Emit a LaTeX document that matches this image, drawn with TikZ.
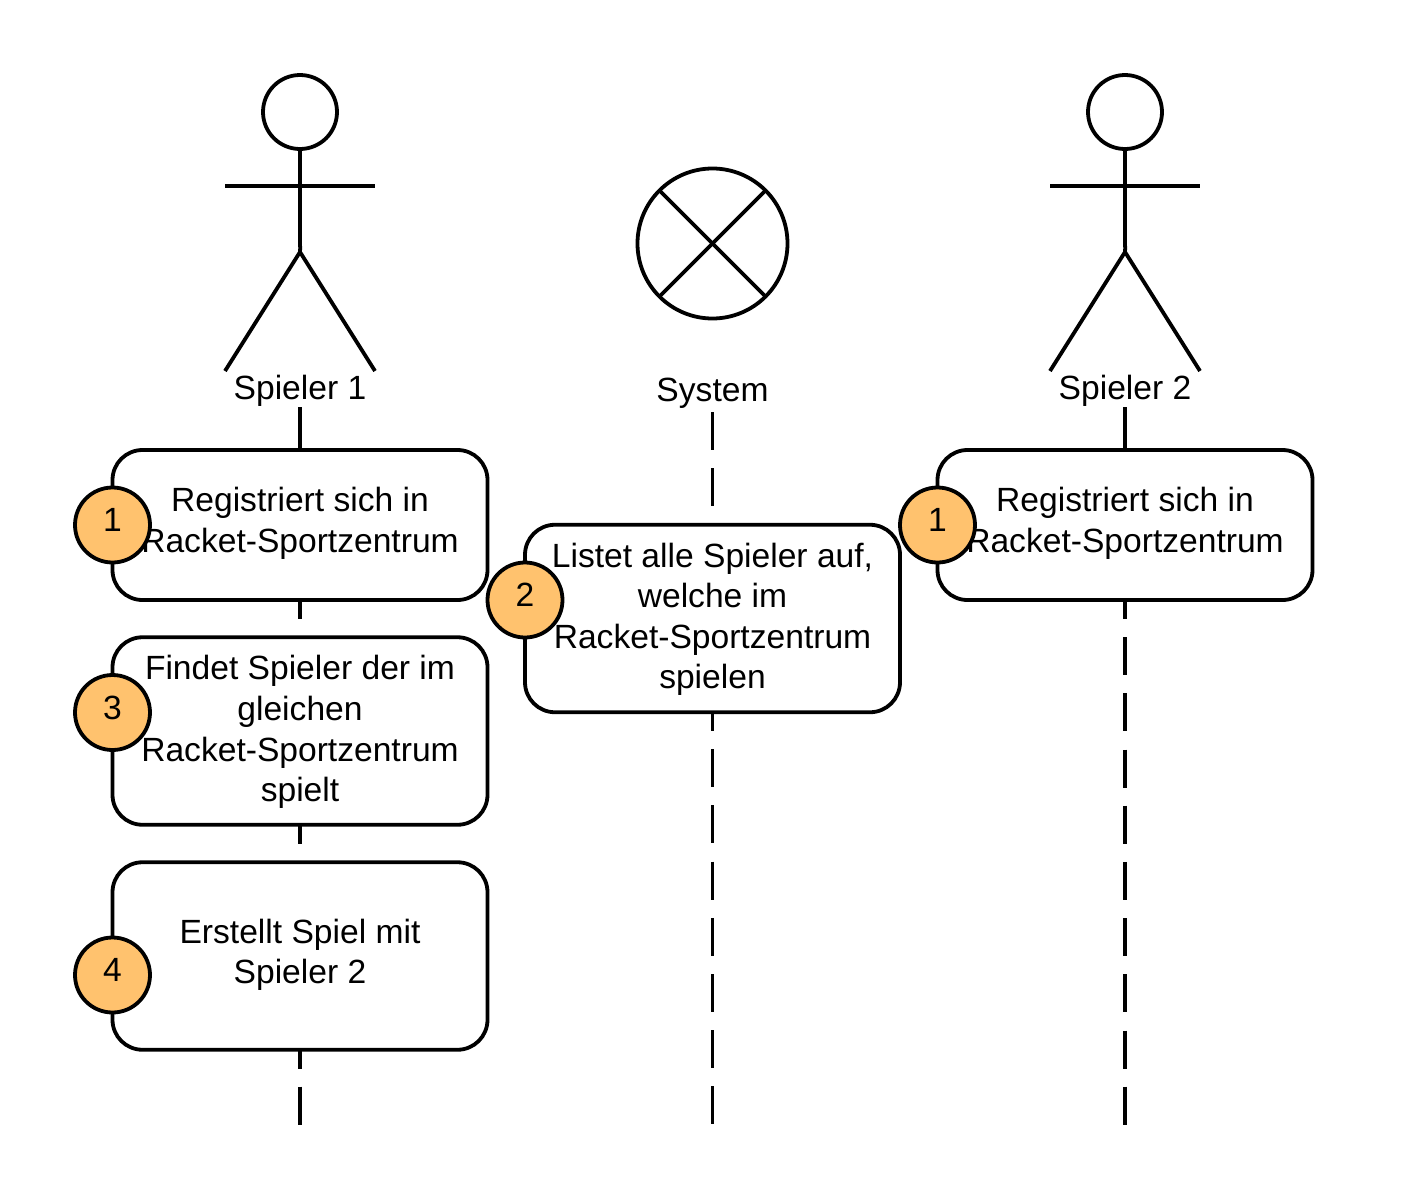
\documentclass[tikz,border=0pt]{standalone}
\usepackage{fontspec}
\setmainfont{Liberation Sans}
\usetikzlibrary{calc}
\tikzset{
  x=1pt,y=-1pt,
  every node/.style={inner sep=0pt,outer sep=0pt,font=\fontsize{33.6}{40.6}\selectfont,text=black},
  stroke/.style={line width=3.8pt,draw=black},
  activity/.style={stroke,fill=white,rounded corners=30pt,minimum width=375pt},
  badge/.style={stroke,fill=badgecol,circle,minimum size=75pt},
  lifeline/.style={line width=3.8pt,draw=black},
  thinline/.style={line width=2.8pt,draw=black},
  limb/.style={stroke,line join=round},
  lbl/.style={anchor=base},
}
\definecolor{badgecol}{HTML}{FFC26E}
% text block: vertical offset (pt, positive = up) from the centre of the node
\newcommand{\lines}[2]{\raisebox{\dimexpr-8.35pt+#1pt\relax}[0pt][0pt]{\begin{tabular}[c]{@{}c@{}}#2\end{tabular}}}
\newcommand{\digit}[1]{\raisebox{-6.7pt}[0pt][0pt]{#1}}
\newcommand{\actor}[2]{%
  \node[stroke,circle,minimum size=74pt] (#1head) at (#2,112) {};
  \coordinate (#1hip) at (#2,252);
  \draw[limb] (#1head.south) -- (#2,244) .. controls (#2,247) and (#2+.5,249) .. (#1hip);
  \draw[limb] (#2-75,186) -- (#2+75,186);
  \draw[limb] (#2-75,371) -- (#1hip) -- (#2+75,371);
}
\begin{document}
\begin{tikzpicture}
\useasboundingbox (0,0) rectangle (1425,1200);
% end points of the lifelines
\coordinate (botA) at (300,1125);
\coordinate (botS) at (712.5,1125);
\coordinate (botB) at (1125,1125);
% labels
\node[lbl] (labA) at (300,399) {Spieler 1};
\node[lbl] (labS) at (712.5,401) {System};
\node[lbl] (labB) at (1125,399) {Spieler 2};
\coordinate (startA) at (300,407);
\coordinate (startS) at (712.5,412);
\coordinate (startB) at (1125,407);
% lifelines
\draw[lifeline] (startA) -- (300,450);
\draw[lifeline] (startB) -- (1125,450);
\draw[lifeline,dash pattern=on 38pt off 18.2pt,dash phase=19.1pt] (300,600) -- (botA);
\draw[thinline,dash pattern=on 38pt off 18.2pt] (startS) -- (botS);
\draw[lifeline,dash pattern=on 38pt off 18.2pt,dash phase=19.1pt] (1125,600) -- (botB);
% actors
\actor{a}{300}
\actor{b}{1125}
% system symbol
\node[stroke,circle,minimum size=150pt] (sys) at (712.5,243.5) {};
\draw[limb] (sys.north west) -- (sys.south east);
\draw[limb] (sys.north east) -- (sys.south west);
% activities
\node[activity,minimum height=150pt] (r1) at (300,525) {\lines{3}{Registriert sich in\\Racket-Sportzentrum}};
\node[activity,minimum height=187.5pt] (f) at (300,731) {\lines{0.4}{Findet Spieler der im\\gleichen\\Racket-Sportzentrum\\spielt}};
\node[activity,minimum height=187.5pt] (e) at (300,956) {\lines{2.8}{Erstellt Spiel mit\\Spieler 2}};
\node[activity,minimum height=187.5pt] (l) at (712.5,618.5) {\lines{0.8}{Listet alle Spieler auf,\\welche im\\Racket-Sportzentrum\\spielen}};
\node[activity,minimum height=150pt] (r2) at (1125,525) {\lines{3}{Registriert sich in\\Racket-Sportzentrum}};
% badges
\node[badge] (b1) at (112.5,525) {\digit{1}};
\node[badge] (b3) at (112.5,712.5) {\digit{3}};
\node[badge] (b4) at (112.5,975) {\digit{4}};
\node[badge] (b2) at (525,600) {\digit{2}};
\node[badge] (b5) at (937.5,525) {\digit{1}};
\end{tikzpicture}
\end{document}
